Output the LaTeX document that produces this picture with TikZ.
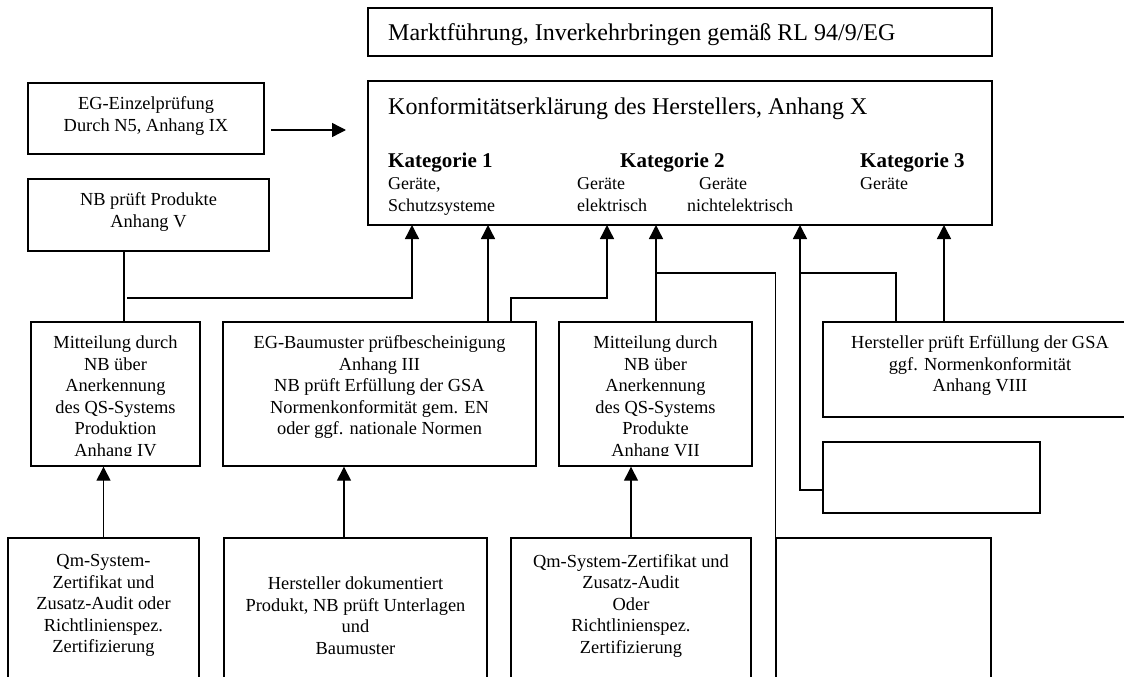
\documentclass[tikz,border=0pt]{standalone}
\usepackage{fontspec}
\setmainfont{Liberation Serif}
\usetikzlibrary{positioning,arrows.meta}

\begin{document}
\begin{tikzpicture}[x=1pt, y=-1pt,
  box/.style={draw, line width=1.4pt, inner sep=0pt},
  boxtext/.style={align=center, inner sep=0pt, anchor=north, font=\fontsize{18.4}{21.5}\selectfont},
  titel/.style={anchor=base west, inner sep=0pt, font=\fontsize{24}{28}\selectfont},
  kat/.style={anchor=base west, inner sep=0pt, font=\fontsize{21}{25}\selectfont\bfseries},
  klein/.style={anchor=base west, inner sep=0pt, font=\fontsize{18}{21}\selectfont},
  verb/.style={line width=1.4pt},
  pfeil/.style={line width=1.4pt, -{Triangle[length=14pt, width=14pt]}}]
  \useasboundingbox (0,0) rectangle (1124,677);
  \clip (0,0) rectangle (1124,677);

  % Kopf
  \node[box, minimum width=624pt, minimum height=48pt] (markt) at (680,32) {};
  \node[titel] (marktt) at (388,41) {Marktführung, Inverkehrbringen gemäß RL 94/9/EG};
  \node[box, minimum width=624pt, minimum height=144pt] (konf) at (680,153) {};
  \node[titel] (konft) at (388,114) {Konformitätserklärung des Herstellers, Anhang X};
  \foreach \n/\x in {1/388,2/620,3/860}
    \node[kat] (kat\n) at (\x,167) {Kategorie \n};
  \foreach \n/\x/\y/\t in {g1/388/189/{Geräte,}, g2/388/211/Schutzsysteme,
                           g3/577/189/Geräte, g4/577/211/elektrisch,
                           g5/699/189/Geräte, g6/687/211/nichtelektrisch,
                           g7/860/189/Geräte}
    \node[klein] (\n) at (\x,\y) {\t};

  % linke Kaesten
  \node[box, minimum width=236pt, minimum height=71pt] (einzel) at (146,118.5) {};
  \node[boxtext] (einzelt) at ([yshift=-14.4pt]einzel.north) {EG-Einzelprüfung\\Durch N5, Anhang IX};
  \node[box, minimum width=241pt, minimum height=72pt] (nb) at (148.5,215) {};
  \node[boxtext] (nbt) at ([yshift=-14.4pt]nb.north) {NB prüft Produkte\\Anhang V};

  % mittlere Reihe
  \node[box, minimum width=169pt, minimum height=144pt] (mit4) at (115.5,394) {};
  \node[box, minimum width=313pt, minimum height=144pt] (baum) at (379.5,394) {};
  \node[box, minimum width=193pt, minimum height=144pt] (mit7) at (655.5,394) {};
  \node[box, minimum width=314pt, minimum height=95pt] (herst) at (980,369.5) {};
  \node[box, minimum width=217pt, minimum height=71pt] (klein) at (931.5,477.5) {};
  \begin{scope}
    \clip (mit4.north west) rectangle ([yshift=11pt]mit4.south east);
    \node[boxtext] (mit4t) at ([yshift=-14.4pt]mit4.north) {Mitteilung durch\\NB über\\Anerkennung\\des QS-Systems\\Produktion\\Anhang IV};
  \end{scope}
  \begin{scope}
    \clip (mit7.north west) rectangle ([yshift=11pt]mit7.south east);
    \node[boxtext] (mit7t) at ([yshift=-14.4pt]mit7.north) {Mitteilung durch\\NB über\\Anerkennung\\des QS-Systems\\Produkte\\Anhang VII};
  \end{scope}
  \node[boxtext] (baumt) at ([yshift=-14.4pt]baum.north) {EG-Baumuster prüfbescheinigung\\Anhang III\\NB prüft Erfüllung der GSA\\Normenkonformität gem. EN\\oder ggf. nationale Normen};
  \node[boxtext] (herstt) at ([yshift=-14.4pt]herst.north) {Hersteller prüft Erfüllung der GSA\\ggf. Normenkonformität\\Anhang VIII};

  % untere Reihe
  \node[box, minimum width=191pt, minimum height=182pt] (qm4) at (103.5,629) {};
  \node[boxtext] (qm4t) at ([yshift=-17pt]qm4.north) {Qm-System-\\Zertifikat und\\Zusatz-Audit oder\\Richtlinienspez.\\Zertifizierung};
  \node[box, minimum width=263pt, minimum height=182pt] (herdok) at (355.5,629) {};
  \node[boxtext] (herdokt) at ([yshift=-39.4pt]herdok.north) {Hersteller dokumentiert\\Produkt, NB prüft Unterlagen\\und\\Baumuster};
  \node[box, minimum width=240pt, minimum height=182pt] (qm7) at (631,629) {};
  \node[boxtext] (qm7t) at ([yshift=-17pt]qm7.north) {Qm-System-Zertifikat und\\Zusatz-Audit\\Oder\\Richtlinienspez.\\Zertifizierung};
  \node[box, minimum width=215pt, minimum height=182pt] (leer) at (883.5,629) {};

  % Verbindungen
  \coordinate (p1) at (271,130);
  \coordinate (p2) at (346,130);
  \foreach \n/\x in {1/412,2/488,3/607,4/656,5/800,6/944}
    \coordinate (e\n) at (\x,225);
  \coordinate (n1) at (124,0);
  \coordinate (n2) at (511,0);
  \coordinate (n3) at (896,0);
  \coordinate (n4) at (344,0);
  \coordinate (s1) at (127,298);
  \coordinate (h1) at (0,273);

  \draw[pfeil] (p1) -- (p2);
  \draw[verb] (nb.south -| n1) -- (mit4.north -| n1);
  \draw[pfeil] (s1) -| (e1);
  \draw[pfeil] (baum.north -| e2) -- (e2);
  \draw[pfeil] (baum.north -| n2) |- (e3 |- s1) -- (e3);
  \draw[pfeil] (mit7.north -| e4) -- (e4);
  \draw[verb] (e4 |- h1) -| (leer.north west);
  \draw[pfeil] ([yshift=-12.5pt]klein.west) -| (e5);
  \draw[verb] (herst.north -| n3) |- (e5 |- h1);
  \draw[pfeil] (herst.north -| e6) -- (e6);
  \draw[pfeil] (qm4.north) -- (qm4.north |- mit4.south);
  \draw[pfeil] (herdok.north -| n4) -- (baum.south -| n4);
  \draw[pfeil] (qm7.north) -- (qm7.north |- mit7.south);
\end{tikzpicture}
\end{document}
